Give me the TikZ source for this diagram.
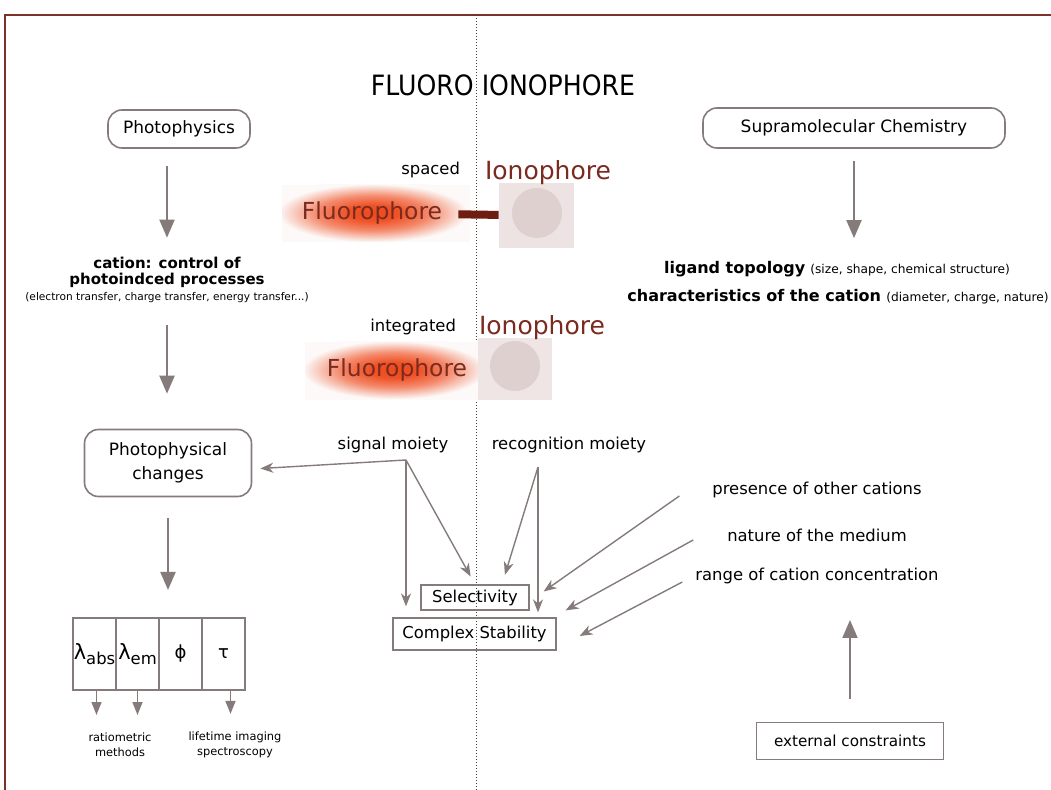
\documentclass[tikz,border=0pt]{standalone}
\usepackage{fontspec}
\setmainfont{DejaVu Sans}
\usetikzlibrary{arrows.meta,positioning}

\definecolor{framebrown}{HTML}{7A3328}
\definecolor{linegray}{HTML}{857B7B}
\definecolor{fluotext}{HTML}{7A2A1E}
\definecolor{barbrown}{HTML}{6E1E10}
\definecolor{ionosquare}{HTML}{EDE3E2}
\definecolor{ionocircle}{HTML}{DDD0CF}
\definecolor{glowred}{HTML}{EE4A1C}
\definecolor{glowbg}{HTML}{FCF9F8}

\pgfdeclareradialshading{glow}{\pgfpointorigin}{%
  color(0bp)=(glowred); color(6bp)=(glowred!95!white);
  color(13bp)=(glowred!65!white); color(18bp)=(glowred!28!glowbg);
  color(22bp)=(glowbg); color(50bp)=(glowbg)}

\tikzset{
  txt/.style={font=\fontsize{8.2}{12}\selectfont, align=center},
  roundbox/.style={txt, font=\fontsize{8.5}{12}\selectfont, draw=linegray, line width=0.8pt, rounded corners=7pt},
  plainbox/.style={txt, draw=linegray, line width=0.6pt, inner sep=0pt},
  cell/.style={draw=linegray, line width=0.6pt, minimum width=21.5pt,
    minimum height=36pt, inner sep=0pt, outer sep=0pt},
  note/.style={font=\fontsize{5.7}{7.5}\selectfont, align=center},
  fluoro/.style={font=\fontsize{11.7}{12}\selectfont, text=fluotext, inner sep=0pt},
  iono/.style={font=\fontsize{12.5}{13}\selectfont, text=fluotext, inner sep=0pt},
  bigarrow/.style={draw=linegray, line width=1pt, -{Triangle[width=7.5pt,length=9pt]}},
  thinarrow/.style={draw=linegray, line width=0.7pt, -{Stealth[width=5pt,length=6.5pt,inset=2pt]}},
  smallarrow/.style={draw=linegray, line width=0.7pt, -{Triangle[width=5pt,length=6.5pt]}},
}

\begin{document}
\begin{tikzpicture}[x=0.5pt, y=-0.5pt]

\useasboundingbox (0,0) rectangle (1051,790);

\draw[framebrown, line width=1pt] (5,790) -- (5,15) -- (1051,15);
\draw[densely dotted, black!75, line width=0.5pt] (476,15) -- (476,790);

\node (title) at (503,85) {\fontsize{14}{16}\selectfont\scalebox{0.9}[1]{FLUORO IONOPHORE}};

% left column
\node[roundbox, minimum width=71pt, minimum height=19pt] (phys) at (179,129) {Photophysics};
\node[txt, font=\fontsize{7.5}{8}\selectfont\bfseries] (cation) at (167,272) {cation: control of\\photoindced processes};
\node[note, font=\fontsize{5.3}{6}\selectfont] (etr) at (167,298) {(electron transfer, charge transfer, energy transfer...)};
\node[roundbox, minimum width=83.5pt, minimum height=33.5pt] (chg) at (168,463) {Photophysical\\changes};

\node[cell] (c1) at (94.5,654) {{\fontsize{10.5}{10}\selectfont λ}\raisebox{-2.5pt}{\fontsize{8.2}{10}\selectfont abs}};
\node[cell, right=0pt of c1] (c2) {{\fontsize{10.5}{10}\selectfont λ}\raisebox{-2.5pt}{\fontsize{8.2}{10}\selectfont em}};
\node[cell, right=0pt of c2] (c3) {\fontsize{9}{10}\selectfont ϕ};
\node[cell, right=0pt of c3] (c4) {\fontsize{9}{10}\selectfont τ};

\node[note] (ratio) at (120,745) {ratiometric\\methods};
\node[note] (life) at (235,745) {lifetime imaging\\spectroscopy};

\draw[bigarrow, shorten <=8.5pt, shorten >=6pt] (phys.south -| cation.north) -- (cation.north);
\draw[bigarrow, shorten <=7.5pt, shorten >=17.5pt] (etr.south) -- (etr.south |- chg.north);
\draw[bigarrow, shorten <=10.5pt, shorten >=14pt] (chg.south) -- (chg.south |- c1.north);
\draw[smallarrow, shorten >=5.5pt] ([xshift=1pt]c1.south) -- ([xshift=1pt]c1.south |- ratio.north);
\draw[smallarrow, shorten >=5.5pt] (c2.south) -- (c2.south |- ratio.north);
\draw[smallarrow, shorten >=5.5pt] ([xshift=3.5pt]c4.south) -- ([xshift=3.5pt]c4.south |- life.north);

% fluorophore / ionophore pictures
\begin{scope}
\clip (282,185) rectangle (470,242);
\fill[glowbg] (282,185) rectangle (470,242);
\shade[shading=glow] (373,213) ellipse [x radius=108, y radius=33];
\end{scope}
\begin{scope}
\clip (305,342) rectangle (478,400);
\fill[glowbg] (305,342) rectangle (478,400);
\shade[shading=glow] (394,370) ellipse [x radius=104, y radius=33];
\end{scope}

\node[fill=ionosquare, minimum width=37.5pt, minimum height=32.5pt, inner sep=0pt] (io1) at (536.5,215.5) {};
\node[circle, fill=ionocircle, minimum size=25pt, inner sep=0pt] (ring1) at (537,213) {};
\node[fill=ionosquare, fill opacity=0.92, minimum width=37pt, minimum height=31pt, inner sep=0pt] (io2) at (515,369) {};
\node[circle, fill=ionocircle, minimum size=25pt, inner sep=0pt] (ring2) at (515,366) {};

\node[fluoro] (fl1) at (372,213) {Fluorophore};
\node[fluoro] (fl2) at (397,370) {Fluorophore};
\node[iono] (ion1) at (548,173) {Ionophore};
\node[iono] (ion2) at (542,328) {Ionophore};
\draw[barbrown, line width=4pt, shorten <=8pt] (fl1) -- (io1);

\node[txt, anchor=east] (spaced) at (467,170) {spaced};
\node[txt, anchor=east] (integ) at (463,327) {integrated};

% moieties
\node[txt] (sig) at (393,445) {signal moiety};
\node[txt] (rec) at (569,445) {recognition moiety};
\coordinate (sh) at (406,460);
\coordinate (rh) at (538,467);

\node[plainbox, minimum width=54pt, minimum height=12.5pt] (sel) at (475,597.5) {Selectivity};
\node[plainbox, minimum width=81.5pt, minimum height=16pt] (cs) at (474.5,634) {Complex Stability};

\draw[thinarrow, shorten >=4pt] (sh) -- ([yshift=-3pt]chg.east);
\draw[thinarrow, shorten >=5.5pt] (sh) -- (sh |- cs.north);
\draw[thinarrow, shorten >=4.5pt] (sh) -- (sel.north);
\draw[thinarrow, shorten >=5pt] (rh) -- ([xshift=13.5pt]sel.north);
\draw[thinarrow, shorten >=2.5pt] (rh) -- (rh |- cs.north);

% right column
\node[roundbox, minimum width=151pt, minimum height=20pt] (supra) at (854,128) {Supramolecular Chemistry};
\node[txt] (lig) at (837,269) {{\fontsize{8}{9}\selectfont\bfseries ligand topology} {\fontsize{6.1}{9}\selectfont (size, shape, chemical structure)}};
\node[txt] (char) at (838,297) {{\fontsize{8}{9}\selectfont\bfseries characteristics of the cation} {\fontsize{6.1}{9}\selectfont (diameter, charge, nature)}};
\draw[bigarrow, shorten <=6pt, shorten >=8pt] (supra.south) -- (supra.south |- lig.north);

\node[txt] (pres) at (817,490) {presence of other cations};
\node[txt] (nat) at (817,535) {nature of the medium};
\node[txt] (rng) at (817,576) {range of cation concentration};
\node[plainbox, font=\fontsize{7.6}{9}\selectfont, minimum width=93.5pt, minimum height=18.5pt] (ext) at (850,741) {external constraints};

\draw[thinarrow] ([xshift=-13pt,yshift=-3pt]pres.west) -- ([xshift=7pt,yshift=3pt]sel.east);
\draw[thinarrow] ([xshift=-13.5pt,yshift=-2.5pt]nat.west) -- ([xshift=4.5pt,yshift=3.5pt]cs.north east);
\draw[thinarrow] ([xshift=-3pt,yshift=-3pt]rng.west) -- ([xshift=11.5pt,yshift=-1pt]cs.east);
\draw[bigarrow, shorten <=11.5pt, shorten >=14.5pt] (ext.north) -- (ext.north |- rng.south);

\end{tikzpicture}
\end{document}
